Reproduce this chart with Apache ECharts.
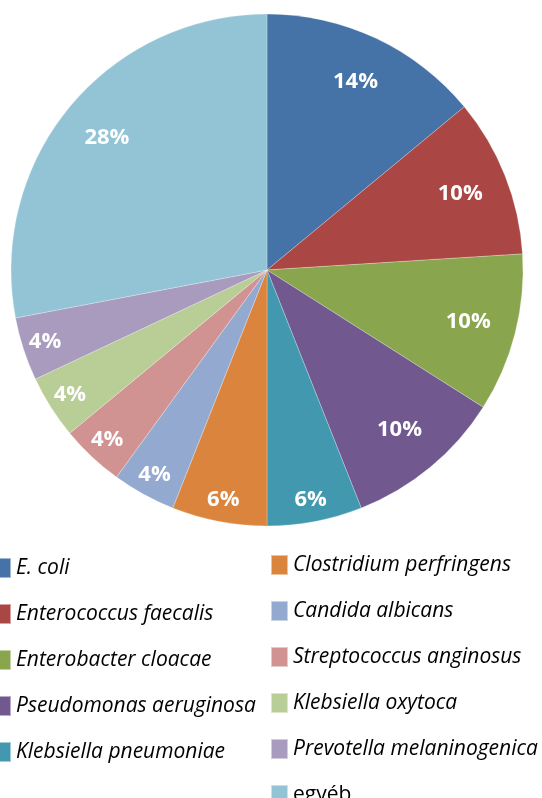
<!DOCTYPE html>
<html>
<head>
<meta charset="utf-8">
<script src="https://cdn.jsdelivr.net/npm/echarts@6/dist/echarts.min.js"></script>
<style>
  html, body { margin: 0; padding: 0; background: #fff; }
  #chart { width: 542px; height: 798px; }
</style>
</head>
<body>
<div id="chart"></div>
<script>
const species = [
  'E. coli',
  'Enterococcus faecalis',
  'Enterobacter cloacae',
  'Pseudomonas aeruginosa',
  'Klebsiella pneumoniae',
  'Clostridium perfringens',
  'Candida albicans',
  'Streptococcus anginosus',
  'Klebsiella oxytoca',
  'Prevotella melaninogenica',
  'egyéb'
]
const percents = [14, 10, 10, 10, 6, 6, 4, 4, 4, 4, 28]
const colors = [
  '#4572A7', '#AA4643', '#89A54E', '#71588F', '#4198AF', '#DB843D',
  '#93A9CF', '#D19392', '#B9CD96', '#A99BBD', '#93C4D5'
]
// labels of the thin slices sit a bit further out, like Excel's best fit
const outerLabels = ['Klebsiella pneumoniae', 'Clostridium perfringens', 'Candida albicans',
  'Streptococcus anginosus', 'Klebsiella oxytoca', 'Prevotella melaninogenica']

const center = [267, 270]
const radius = 256

const labelStyle = {
  position: 'inside',
  formatter: '{c}%',
  color: '#fff',
  fontFamily: 'Open Sans',
  fontWeight: 'bold',
  fontSize: 22,
}

function ringData(outer) {
  return species.map((name, i) => ({
    name,
    value: percents[i],
    label: { show: outerLabels.includes(name) === outer },
  }))
}

const legendText = {
  fontFamily: 'Open Sans',
  fontStyle: 'italic',
  fontSize: 21,
  lineHeight: 20,
  color: '#000',
}

const chart = echarts.init(document.getElementById('chart'), null, { renderer: 'canvas' })

chart.setOption({
  animation: false,
  color: colors,
  legend: [
    {
      orient: 'vertical',
      left: -7,
      top: 557,
      height: 260,
      padding: 0,
      itemWidth: 17,
      itemHeight: 20,
      itemGap: 24,
      selectedMode: false,
      icon: 'rect',
      textStyle: legendText,
      data: species.slice(0, 5),
    },
    {
      orient: 'vertical',
      left: 270,
      top: 554,
      height: 260,
      padding: 0,
      itemWidth: 17,
      itemHeight: 20,
      itemGap: 24,
      selectedMode: false,
      icon: 'rect',
      textStyle: legendText,
      data: species.slice(5).map(name =>
        name === 'egyéb' ? { name, textStyle: { fontStyle: 'normal' } } : name),
    },
  ],
  series: [
    {
      type: 'pie',
      center,
      radius,
      startAngle: 90,
      clockwise: true,
      silent: true,
      label: { show: false },
      labelLine: { show: false },
      itemStyle: { borderColor: 'rgba(255,255,255,0.5)', borderWidth: 0.5 },
      data: species.map((name, i) => ({ name, value: percents[i] })),
    },
    {
      type: 'pie',
      center,
      radius: [radius * 0.6, radius],
      startAngle: 90,
      silent: true,
      avoidLabelOverlap: false,
      itemStyle: { color: 'rgba(0,0,0,0)' },
      label: labelStyle,
      labelLine: { show: false },
      data: ringData(false),
    },
    {
      type: 'pie',
      center,
      radius: [radius * 0.8, radius],
      startAngle: 90,
      silent: true,
      avoidLabelOverlap: false,
      itemStyle: { color: 'rgba(0,0,0,0)' },
      label: labelStyle,
      labelLine: { show: false },
      data: ringData(true),
    },
  ],
})
</script>
</body>
</html>
